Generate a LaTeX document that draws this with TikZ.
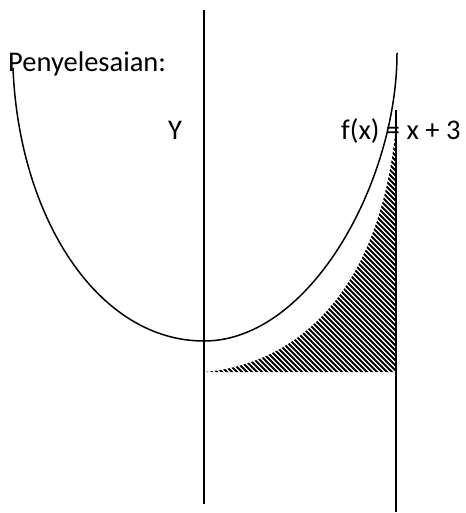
\documentclass[tikz,border=0pt]{standalone}
\usepackage{fontspec}
\setmainfont{Carlito}
\tikzset{
  axis/.style={draw, line width=1.6pt},
  curve/.style={draw, line width=1.5pt},
  lbl/.style={font=\fontsize{28.5}{32}\selectfont, inner sep=0pt, anchor=base west},
  stripe/.style={draw, line width=2pt}
}
\begin{document}
\begin{tikzpicture}[x=1pt, y=-1pt]
\useasboundingbox (0,0) rectangle (465,513);
% axes
\coordinate (ytop) at (204,10);
\coordinate (ybot) at (204,504);
\coordinate (rtop) at (396,110);
\coordinate (rbot) at (396,512);
% hatched area
\coordinate (h0) at (204,372);
\coordinate (h1) at (396,372);
\coordinate (h2) at (396,125);
\begin{scope}
  \clip (h0) -- (h1) -- (h2) .. controls (380,300) and (290,365) .. (h0);
  \foreach \c in {-170,-165,...,280}
    \draw[stripe] ({\c+100},100) -- ({\c+400},400);
\end{scope}
\draw[axis] (ytop) -- (ybot);
\draw[axis] (rtop) -- (rbot);
% curve
\coordinate (cl) at (13,68);
\coordinate (cv) at (204,341);
\coordinate (cr) at (397,53);
\draw[curve] (cl) .. controls (19,218) and (98,341) .. (cv)
  .. controls (310,341) and (397,182) .. (cr);
% labels
\node[lbl] (judul) at (8,72) {Penyelesaian:};
\node[lbl] (sumbuy) at (168,140) {Y};
\node[lbl] (fungsi) at (341,140) {f(x) = x + 3};
\end{tikzpicture}
\end{document}
